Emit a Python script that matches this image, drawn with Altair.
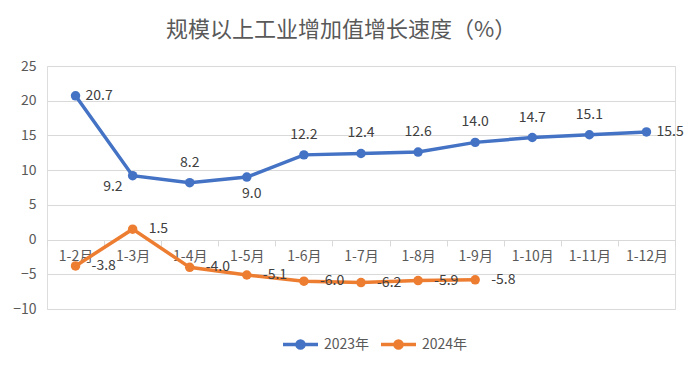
import altair as alt
import pandas as pd

months = ["1-2月", "1-3月", "1-4月", "1-5月", "1-6月", "1-7月", "1-8月", "1-9月", "1-10月", "1-11月", "1-12月"]
values_2023 = [20.7, 9.2, 8.2, 9.0, 12.2, 12.4, 12.6, 14.0, 14.7, 15.1, 15.5]
values_2024 = [-3.8, 1.5, -4.0, -5.1, -6.0, -6.2, -5.9, -5.8]
series_names = ["2023年", "2024年"]
y_ticks = [-10, -5, 0, 5, 10, 15, 20, 25]

rows = []
for m, v in zip(months, values_2023):
    rows.append({"month": m, "value": v, "series": series_names[0], "label": f"{v:.1f}"})
for m, v in zip(months, values_2024):
    rows.append({"month": m, "value": v, "series": series_names[1], "label": f"{v:.1f}"})
df = pd.DataFrame(rows)

FONT = "Noto Sans CJK SC"
AXIS_GRAY = "#595959"
GRID = "#d9d9d9"
LABEL = "#404040"

x_enc = alt.X(
    "month:N",
    sort=months,
    scale=alt.Scale(type="band", paddingInner=0, paddingOuter=0),
    axis=alt.Axis(
        title=None, offset=-69, tickBand="extent", labelAngle=0,
        domainColor=GRID, tickColor=GRID, tickSize=6, labelPadding=3,
        labelColor=AXIS_GRAY, labelFontSize=14, labelFont=FONT, grid=False,
    ),
)
y_enc = alt.Y(
    "value:Q",
    scale=alt.Scale(domain=[-10, 25], nice=False, zero=False),
    axis=alt.Axis(
        title=None, values=y_ticks, domain=False, ticks=False, labelPadding=11,
        labelColor=AXIS_GRAY, labelFontSize=14, labelFont=FONT,
        gridColor=GRID, gridWidth=1,
    ),
)
color_enc = alt.Color(
    "series:N",
    scale=alt.Scale(domain=series_names, range=["#4472C4", "#ED7D31"]),
    legend=alt.Legend(
        title=None, orient="none", direction="horizontal", legendX=234, legendY=259,
        symbolType="M-1,0L1,0M-0.2,0A0.2,0.2,0,1,0,0.2,0A0.2,0.2,0,1,0,-0.2,0Z",
        symbolSize=1225, symbolStrokeWidth=3.5, labelFontSize=14, labelFont=FONT,
        labelColor=AXIS_GRAY, columnPadding=4, labelOffset=4,
    ),
)

base = alt.Chart(df)
lines = base.mark_line(strokeWidth=3.5).encode(x=x_enc, y=y_enc, color=color_enc)
points = base.mark_point(filled=True, size=90, opacity=1).encode(x=x_enc, y=y_enc, color=color_enc)

txt = dict(fontSize=14, font=FONT, color=LABEL)
above_months = ["1-4月", "1-6月", "1-7月", "1-8月", "1-9月", "1-10月", "1-11月"]
right_months = ["1-2月", "1-12月"]

s23 = base.transform_filter(alt.datum.series == series_names[0])
s24 = base.transform_filter(alt.datum.series == series_names[1])

t_above = s23.transform_filter(alt.FieldOneOfPredicate(field="month", oneOf=above_months)).mark_text(
    align="center", baseline="middle", dy=-20, **txt).encode(x=x_enc, y=y_enc, text="label:N")
t_right = s23.transform_filter(alt.FieldOneOfPredicate(field="month", oneOf=right_months)).mark_text(
    align="left", baseline="middle", dx=10, **txt).encode(x=x_enc, y=y_enc, text="label:N")
t_left_below = s23.transform_filter(alt.datum.month == "1-3月").mark_text(
    align="right", baseline="middle", dx=-10, dy=11, **txt).encode(x=x_enc, y=y_enc, text="label:N")
t_below = s23.transform_filter(alt.datum.month == "1-5月").mark_text(
    align="center", baseline="middle", dx=5, dy=17, **txt).encode(x=x_enc, y=y_enc, text="label:N")
t_24 = s24.mark_text(align="left", baseline="middle", dx=16, dy=0, **txt).encode(
    x=x_enc, y=y_enc, text="label:N")

chart = alt.layer(lines, points, t_above, t_right, t_left_below, t_below, t_24).properties(
    width=628, height=243,
    autosize=alt.AutoSizeParams(type="none"),
    padding={"left": 39, "top": 58, "right": 11, "bottom": 51},
    title=alt.Title("规模以上工业增加值增长速度（%）", font=FONT, fontSize=22, fontWeight="normal",
                    color=AXIS_GRAY, anchor="middle", dx=-20, offset=17),
).configure_view(stroke=None).configure(background="white")

chart.save("out.html", embed_options={"renderer": "svg", "actions": False})
